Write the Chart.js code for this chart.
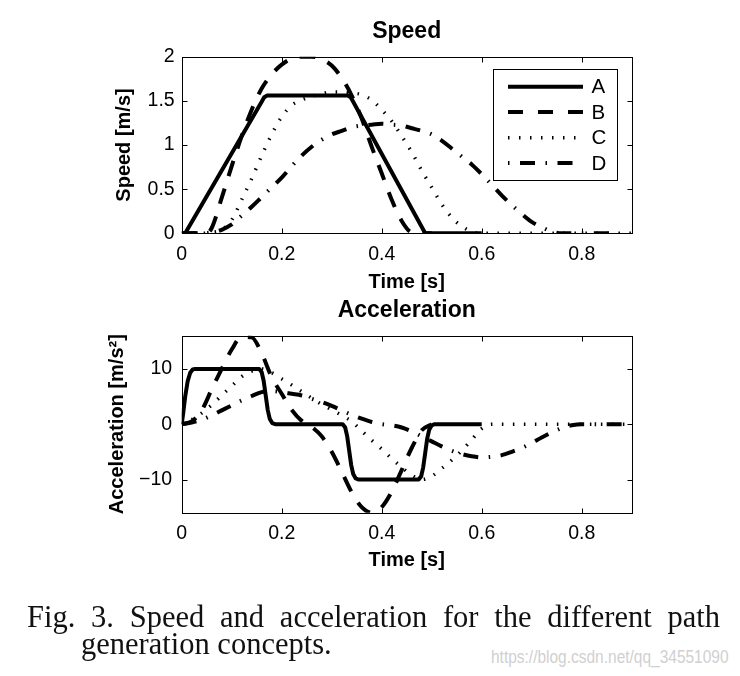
<!DOCTYPE html>
<html><head><meta charset="utf-8">
<script src="https://cdn.jsdelivr.net/npm/chart.js@4"></script>
<style>
html,body{margin:0;padding:0;background:#fff;width:740px;height:676px;overflow:hidden;}
canvas{position:absolute;left:0;}
#c1{top:0}
#c2{top:290px}
.cap{position:absolute;font-family:"Liberation Serif","Times New Roman",serif;font-size:30.5px;line-height:29px;color:#111;}
#cap1{left:27px;top:603px;width:693px;text-align:justify;text-align-last:justify;}
#cap2{left:81px;top:630px;white-space:nowrap;}
#wm{position:absolute;left:491px;top:648px;font-family:"Liberation Sans",Arial,sans-serif;font-size:18px;line-height:18px;color:#d0d0d0;transform-origin:0 0;transform:scaleX(0.86);white-space:nowrap;}
</style></head>
<body>
<canvas id="c1" width="740" height="310"></canvas>
<canvas id="c2" width="740" height="310"></canvas>
<div class="cap" id="cap1">Fig. 3. Speed and acceleration for the different path</div>
<div class="cap" id="cap2">generation concepts.</div>
<div id="wm">https://blog.csdn.net/qq_34551090</div>
<script>
// ---------------- data ----------------
const seriesNames = ['A', 'B', 'C', 'D'];
const timeTicks = [0, 0.2, 0.4, 0.6, 0.8];
const timeTickLabels = ['0', '0.2', '0.4', '0.6', '0.8'];
const speedTicks = [0, 0.5, 1, 1.5, 2];
const speedTickLabels = ['0', '0.5', '1', '1.5', '2'];
const accTicks = [-10, 0, 10];
const accTickLabels = ['\u221210', '0', '10'];

// Speed [m/s]
const speedA_t = [0, 0.007, 0.16, 0.165, 0.171, 0.332, 0.338, 0.343, 0.487, 0.6];
const speedA_v = [0, 0, 1.49, 1.54, 1.56, 1.56, 1.54, 1.49, 0, 0];
const speedB_t = [0, 0.02, 0.04, 0.05, 0.06, 0.08, 0.1, 0.12, 0.14, 0.16, 0.18, 0.2, 0.22, 0.24, 0.26, 0.28, 0.3, 0.32, 0.34, 0.36, 0.38, 0.4, 0.42, 0.44, 0.46, 0.48, 0.5];
const speedB_v = [0, 0, 0, 0, 0.06, 0.4, 0.76, 1.1, 1.4, 1.64, 1.8, 1.91, 1.98, 2.0, 2.0, 1.97, 1.9, 1.76, 1.56, 1.3, 0.98, 0.68, 0.38, 0.14, 0.01, 0, 0];
const speedC_t = [0, 0.02, 0.04, 0.06, 0.08, 0.1, 0.12, 0.14, 0.16, 0.18, 0.2, 0.22, 0.24, 0.26, 0.28, 0.3, 0.32, 0.34, 0.36, 0.38, 0.4, 0.42, 0.44, 0.46, 0.48, 0.5, 0.52, 0.54, 0.56, 0.58, 0.6, 0.7, 0.8, 0.9];
const speedC_v = [0, 0, 0, 0.01, 0.04, 0.15, 0.38, 0.62, 0.88, 1.12, 1.32, 1.45, 1.51, 1.55, 1.58, 1.6, 1.6, 1.59, 1.57, 1.51, 1.4, 1.27, 1.1, 0.92, 0.71, 0.52, 0.33, 0.18, 0.08, 0.02, 0, 0, 0, 0];
const speedD_t = [0, 0.02, 0.04, 0.06, 0.08, 0.1, 0.12, 0.14, 0.16, 0.18, 0.2, 0.22, 0.24, 0.26, 0.28, 0.3, 0.32, 0.34, 0.36, 0.38, 0.4, 0.42, 0.44, 0.46, 0.48, 0.5, 0.52, 0.54, 0.56, 0.58, 0.6, 0.62, 0.64, 0.66, 0.68, 0.7, 0.72, 0.74, 0.76, 0.8, 0.86];
const speedD_v = [0, 0, 0, 0.01, 0.04, 0.1, 0.2, 0.3, 0.41, 0.52, 0.63, 0.76, 0.88, 0.98, 1.06, 1.12, 1.16, 1.2, 1.22, 1.23, 1.24, 1.23, 1.22, 1.19, 1.16, 1.12, 1.05, 0.96, 0.87, 0.78, 0.67, 0.55, 0.43, 0.32, 0.22, 0.13, 0.07, 0.02, 0, 0, 0];

// Acceleration [m/s^2]
const accA_t = [0, 0.003, 0.007, 0.012, 0.017, 0.022, 0.027, 0.155, 0.16, 0.164, 0.168, 0.172, 0.176, 0.181, 0.187, 0.322, 0.327, 0.331, 0.335, 0.339, 0.343, 0.348, 0.354, 0.474, 0.479, 0.483, 0.487, 0.491, 0.495, 0.5, 0.506, 0.6];
const accA_a = [0, 2, 5, 7.8, 9.3, 9.9, 10, 10, 9.4, 7.8, 5.2, 2.6, 1, 0.2, 0, 0, -0.6, -2.2, -4.8, -7.4, -9, -9.8, -10, -10, -9.4, -7.8, -5.2, -2.6, -1, -0.2, 0, 0];
const accB_t = [0, 0.02, 0.04, 0.06, 0.08, 0.1, 0.12, 0.14, 0.16, 0.18, 0.2, 0.22, 0.24, 0.26, 0.28, 0.3, 0.32, 0.34, 0.36, 0.38, 0.4, 0.42, 0.44, 0.46, 0.48, 0.5];
const accB_a = [0, 0.5, 2.5, 6.3, 10, 13.5, 15.8, 15.7, 12.8, 8.5, 5.5, 2.6, 0.6, -0.5, -2.2, -5, -8.6, -12.3, -15, -16, -15, -12.2, -8.3, -4.3, -1.1, 0];
const accC_t = [0, 0.02, 0.04, 0.06, 0.08, 0.1, 0.12, 0.14, 0.16, 0.18, 0.2, 0.22, 0.24, 0.26, 0.28, 0.3, 0.32, 0.34, 0.36, 0.38, 0.4, 0.42, 0.44, 0.46, 0.48, 0.5, 0.52, 0.54, 0.56, 0.58, 0.6, 0.62, 0.7, 0.8, 0.9];
const accC_a = [0, 0.8, 2, 3.5, 5.2, 6.9, 8.6, 9.6, 10, 9.3, 8.2, 7.1, 5.9, 4.7, 3.6, 2.6, 1.6, 0.5, -1.2, -2.9, -4.5, -6.2, -7.8, -9.2, -10, -9.4, -8, -6.5, -4.8, -2.8, -0.8, 0, 0, 0, 0];
const accD_t = [0, 0.02, 0.04, 0.06, 0.08, 0.1, 0.12, 0.14, 0.16, 0.18, 0.2, 0.22, 0.24, 0.26, 0.28, 0.3, 0.32, 0.34, 0.36, 0.38, 0.4, 0.42, 0.44, 0.46, 0.48, 0.5, 0.52, 0.54, 0.56, 0.58, 0.6, 0.62, 0.64, 0.66, 0.68, 0.7, 0.72, 0.74, 0.76, 0.78, 0.8, 0.9];
const accD_a = [0, 0.3, 0.8, 1.6, 2.5, 3.4, 4.3, 5.1, 5.8, 6, 5.8, 5.5, 5.2, 4.6, 4, 3.3, 2.5, 1.7, 1, 0.4, 0, -0.2, -0.6, -1.3, -2.2, -3.1, -4, -4.8, -5.4, -5.8, -6, -5.9, -5.6, -5, -4.3, -3.4, -2.4, -1.5, -0.7, -0.2, 0, 0];

// ---------------- styles ----------------
const lineStyles = [
  { borderWidth: 4, borderDash: [], legendDash: [], legendOffset: 0, mode: 'default', order: 3 },
  { borderWidth: 4, borderDash: [16, 13], legendDash: [15, 15], legendOffset: 0, mode: 'monotone', order: 2 },
  { borderWidth: 3.5, borderDash: [1.5, 9.5], legendDash: [1.5, 9.5], legendOffset: 0, mode: 'monotone', order: 1 },
  { borderWidth: 4, borderDash: [15, 10.5, 1.5, 10.5], legendDash: [15, 10.5, 1.5, 10.5], legendOffset: 25.5, mode: 'monotone', order: 0 }
];

function pts(t, v) { return t.map((x, i) => ({ x: x, y: v[i] })); }
function makeDatasets(list) {
  return list.map((d, i) => {
    const s = lineStyles[i];
    return {
      label: seriesNames[i],
      data: pts(d[0], d[1]),
      borderColor: '#000',
      backgroundColor: '#000',
      borderWidth: s.borderWidth,
      borderDash: s.borderDash,
      legendDash: s.legendDash,
      legendOffset: s.legendOffset,
      borderCapStyle: 'butt',
      borderJoinStyle: 'round',
      cubicInterpolationMode: s.mode,
      tension: 0,
      pointRadius: 0,
      fill: false,
      clip: 0,
      order: s.order
    };
  });
}

Chart.defaults.font.family = '"Liberation Sans", Arial, Helvetica, sans-serif';
Chart.defaults.color = '#000';

const boxPlugin = {
  id: 'mBox',
  afterDraw(chart) {
    const { ctx, chartArea: a, scales } = chart;
    const L = Math.round(a.left) + 0.5, R = Math.round(a.right) + 0.5;
    const T = Math.round(a.top) + 0.5, B = Math.round(a.bottom) + 0.5;
    const len = 5;
    ctx.save();
    ctx.strokeStyle = '#000';
    ctx.lineWidth = 1;
    ctx.setLineDash([]);
    ctx.beginPath();
    scales.x.ticks.forEach(t => {
      const x = Math.round(scales.x.getPixelForValue(t.value)) + 0.5;
      ctx.moveTo(x, B); ctx.lineTo(x, B - len);
      ctx.moveTo(x, T); ctx.lineTo(x, T + len);
    });
    scales.y.ticks.forEach(t => {
      const y = Math.round(scales.y.getPixelForValue(t.value)) + 0.5;
      ctx.moveTo(L, y); ctx.lineTo(L + len, y);
      ctx.moveTo(R, y); ctx.lineTo(R - len, y);
    });
    ctx.stroke();
    ctx.strokeRect(L, T, R - L, B - T);
    ctx.restore();
  }
};

const legendPlugin = {
  id: 'mLegend',
  afterDraw(chart, args, opts) {
    if (!opts || !opts.show) return;
    const { ctx, chartArea: a } = chart;
    const w = 124, h = 111;
    const x0 = Math.round(a.right - 14.4 - w) + 0.5, y0 = Math.round(a.top + 12.6) + 0.5;
    const rows = [17.2, 42.6, 68.2, 93.6];
    ctx.save();
    ctx.fillStyle = '#fff';
    ctx.fillRect(x0, y0, w, h);
    ctx.strokeStyle = '#000';
    ctx.lineWidth = 1;
    ctx.setLineDash([]);
    ctx.strokeRect(x0, y0, w, h);
    chart.data.datasets.forEach((ds, i) => {
      const y = y0 + rows[i];
      ctx.save();
      ctx.setLineDash(ds.legendDash);
      ctx.lineDashOffset = ds.legendOffset;
      ctx.lineWidth = ds.borderWidth;
      ctx.lineCap = 'butt';
      ctx.strokeStyle = ds.borderColor;
      ctx.beginPath();
      ctx.moveTo(x0 + 14.5, y);
      ctx.lineTo(x0 + 89.5, y);
      ctx.stroke();
      ctx.restore();
      ctx.fillStyle = '#000';
      ctx.font = '20.5px "Liberation Sans", Arial, sans-serif';
      ctx.textAlign = 'left';
      ctx.textBaseline = 'middle';
      ctx.fillText(ds.label, x0 + 98, y + 1);
    });
    ctx.restore();
  }
};

function makeChart(id, cfg) {
  return new Chart(document.getElementById(id), {
    type: 'line',
    data: { datasets: makeDatasets(cfg.series) },
    plugins: [boxPlugin, legendPlugin],
    options: {
      responsive: false,
      animation: false,
      devicePixelRatio: 1,
      layout: { padding: { left: 0, right: 108.3, top: 0, bottom: 0 } },
      plugins: {
        legend: { display: false },
        tooltip: { enabled: false },
        title: {
          display: true, text: cfg.title, color: '#000', fullSize: false,
          font: { size: 23, weight: 'bold' },
          padding: { top: cfg.titleTop, bottom: 11.5 }
        },
        mLegend: { show: cfg.legend }
      },
      scales: {
        x: {
          type: 'linear', min: 0, max: 0.9,
          afterBuildTicks: s => { s.ticks = timeTicks.map(v => ({ value: v })); },
          afterFit: s => { s.height = cfg.xHeight; },
          ticks: { color: '#000', font: { size: 19.5 }, padding: 9.7, autoSkip: false, maxRotation: 0,
                   callback: (v, i) => timeTickLabels[i] },
          grid: { display: false, drawTicks: false },
          border: { display: false },
          title: { display: true, text: 'Time [s]', color: '#000', font: { size: 20, weight: 'bold' },
                   padding: { top: 0, bottom: cfg.xTitleBottom } }
        },
        y: {
          type: 'linear', min: cfg.yMin, max: cfg.yMax,
          afterBuildTicks: s => { s.ticks = cfg.yTicks.map(v => ({ value: v })); },
          afterFit: s => { s.width = 181.7; },
          ticks: { color: '#000', font: { size: 19.5 }, padding: cfg.yPad, autoSkip: false,
                   callback: (v, i) => cfg.yLabels[i] },
          grid: { display: false, drawTicks: false },
          border: { display: false },
          title: { display: true, text: cfg.yTitle, color: '#000', font: { size: 20, weight: 'bold' },
                   padding: { top: cfg.yTitlePos, bottom: 0 } }
        }
      }
    }
  });
}

makeChart('c1', {
  title: 'Speed', titleTop: 17.6, legend: true,
  series: [[speedA_t, speedA_v], [speedB_t, speedB_v], [speedC_t, speedC_v], [speedD_t, speedD_v]],
  xHeight: 76.7, xTitleBottom: 16,
  yMin: 0, yMax: 2, yTicks: speedTicks, yLabels: speedTickLabels, yPad: 7,
  yTitle: 'Speed [m/s]', yTitlePos: 112.5
});
makeChart('c2', {
  title: 'Acceleration', titleTop: 6.6, legend: false,
  series: [[accA_t, accA_a], [accB_t, accB_a], [accC_t, accC_a], [accD_t, accD_a]],
  xHeight: 87.3, xTitleBottom: 27.5,
  yMin: -16, yMax: 16, yTicks: accTicks, yLabels: accTickLabels, yPad: 9.5,
  yTitle: 'Acceleration [m/s\u00B2]', yTitlePos: 105.5
});
</script>
</body></html>
